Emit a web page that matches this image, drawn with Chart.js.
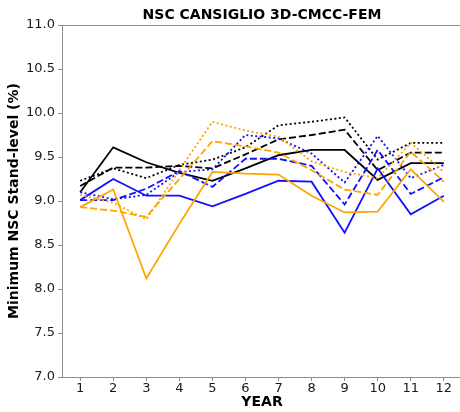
<!DOCTYPE html>
<html><head><meta charset="utf-8">
<script src="https://cdn.jsdelivr.net/npm/chart.js@4"></script>
<style>html,body{margin:0;padding:0;overflow:hidden;background:#fff}#w{width:462px;height:412px;position:relative}</style>
</head><body><div id="w"><canvas id="c"></canvas></div>
<script>
const years = [1,2,3,4,5,6,7,8,9,10,11,12];
const yTicks = [7.0,7.5,8.0,8.5,9.0,9.5,10.0,10.5,11.0];
const blackSolid   = [9.10, 9.61, 9.44, 9.32, 9.23, 9.37, 9.52, 9.58, 9.58, 9.24, 9.43, 9.43];
const blackDashed  = [9.17, 9.38, 9.38, 9.40, 9.37, 9.53, 9.70, 9.75, 9.81, 9.35, 9.55, 9.55];
const blackDotted  = [9.23, 9.37, 9.26, 9.41, 9.47, 9.61, 9.86, 9.90, 9.95, 9.47, 9.66, 9.66];
const blueSolid    = [9.01, 9.25, 9.06, 9.06, 8.94, 9.08, 9.23, 9.22, 8.64, 9.37, 8.85, 9.06];
const blueDashed   = [9.01, 9.01, 9.14, 9.34, 9.16, 9.48, 9.48, 9.40, 8.96, 9.58, 9.08, 9.27];
const blueDotted   = [9.10, 9.02, 9.07, 9.33, 9.36, 9.75, 9.71, 9.54, 9.21, 9.74, 9.26, 9.41];
const orangeSolid  = [8.93, 9.13, 8.12, 8.74, 9.33, 9.31, 9.30, 9.06, 8.87, 8.88, 9.36, 8.99];
const orangeDashed = [8.93, 8.89, 8.82, 9.25, 9.68, 9.62, 9.55, 9.35, 9.13, 9.07, 9.56, 9.22];
const orangeDotted = [9.07, 8.98, 8.79, 9.35, 9.90, 9.80, 9.73, 9.45, 9.33, 9.26, 9.66, 9.33];

const BLACK = '#000000', BLUE = '#1010ff', ORANGE = '#ffa500';
const DASH = [7, 3], DOT = [2, 2.5];
function ds(label, vals, color, dash) {
  return { label, data: years.map((x, i) => ({ x, y: vals[i] })), borderColor: color,
    borderWidth: 1.8, borderDash: dash, pointRadius: 0, fill: false, tension: 0 };
}
const datasets = [
  ds('orange dotted', orangeDotted, ORANGE, DOT),
  ds('orange dashed', orangeDashed, ORANGE, DASH),
  ds('orange solid', orangeSolid, ORANGE, []),
  ds('blue dotted', blueDotted, BLUE, DOT),
  ds('blue dashed', blueDashed, BLUE, DASH),
  ds('blue solid', blueSolid, BLUE, []),
  ds('black dotted', blackDotted, BLACK, DOT),
  ds('black dashed', blackDashed, BLACK, DASH),
  ds('black solid', blackSolid, BLACK, []),
];

const SPINE = '#8c8c8c';
const framePlugin = {
  id: 'frame',
  afterDraw(chart) {
    const { ctx, chartArea: a } = chart;
    ctx.save();
    ctx.strokeStyle = SPINE; ctx.lineWidth = 1;
    ctx.beginPath();
    ctx.moveTo(a.left, a.top + 0.5); ctx.lineTo(a.right + 10, a.top + 0.5);
    ctx.stroke();
    ctx.fillStyle = '#000';
    ctx.font = 'bold 14px "DejaVu Sans"';
    ctx.textAlign = 'center'; ctx.textBaseline = 'middle';
    ctx.fillText('NSC CANSIGLIO 3D-CMCC-FEM', 262, 15);
    ctx.restore();
  }
};

new Chart(document.getElementById('c'), {
  type: 'line',
  data: { datasets },
  plugins: [framePlugin],
  options: {
    responsive: true, maintainAspectRatio: false, animation: false, devicePixelRatio: 1,
    layout: { padding: { top: 25, left: 0, right: 0, bottom: 0 } },
    plugins: { legend: { display: false }, tooltip: { enabled: false } },
    scales: {
      x: {
        type: 'linear', min: 0.45, max: 12.55,
        afterBuildTicks: s => { s.ticks = years.map(v => ({ value: v })); },
        afterFit: s => { s.height = 35; },
        ticks: { autoSkip: false, maxRotation: 0, padding: 0, color: '#1a1a1a',
          font: { family: 'DejaVu Sans', size: 13 }, callback: v => String(v) },
        grid: { drawOnChartArea: false, tickLength: 4, color: SPINE },
        border: { color: SPINE },
        title: { display: true, text: 'YEAR', color: '#000', padding: { top: 0, bottom: 1 },
          font: { family: 'DejaVu Sans', size: 14, weight: 'bold' } }
      },
      y: {
        min: 7, max: 11,
        afterBuildTicks: s => { s.ticks = yTicks.map(v => ({ value: v })); },
        afterFit: s => { s.width = 62; },
        ticks: { padding: 3, color: '#1a1a1a', font: { family: 'DejaVu Sans', size: 13 },
          callback: v => Number(v).toFixed(1) },
        grid: { drawOnChartArea: false, tickLength: 4, color: SPINE },
        border: { color: SPINE },
        title: { display: true, text: 'Minimum NSC Stand-level (%)', color: '#000',
          padding: { top: 6, bottom: 0 }, font: { family: 'DejaVu Sans', size: 14, weight: 'bold' } }
      }
    }
  }
});
</script>
</body></html>
